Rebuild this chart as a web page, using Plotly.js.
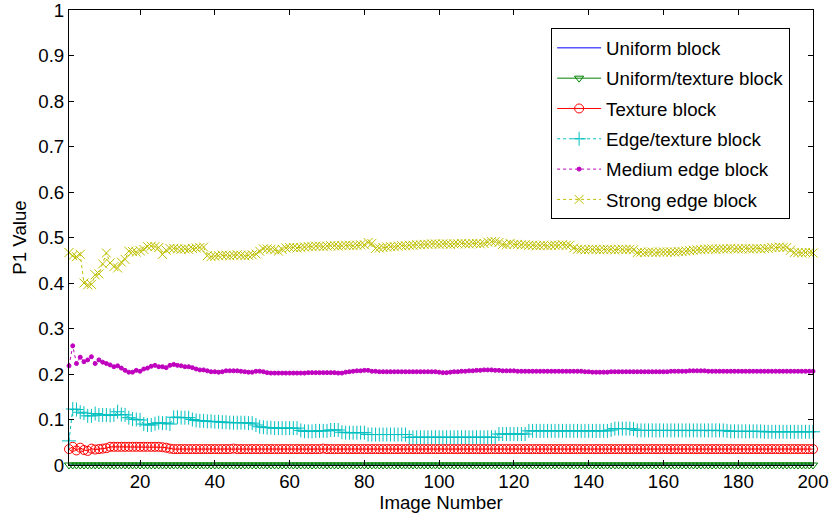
<!DOCTYPE html>
<html>
<head>
<meta charset="utf-8">
<script src="https://cdn.plot.ly/plotly-3.0.1.min.js"></script>
<style>html,body{margin:0;padding:0;background:#fff;}#chart{width:833px;height:519px;}</style>
</head>
<body>
<div id="chart"></div>
<script>
var imageNumber = [
1,2,3,4,5,6,7,8,9,10,11,12,13,14,15,16,17,18,19,20,
21,22,23,24,25,26,27,28,29,30,31,32,33,34,35,36,37,38,39,40,
41,42,43,44,45,46,47,48,49,50,51,52,53,54,55,56,57,58,59,60,
61,62,63,64,65,66,67,68,69,70,71,72,73,74,75,76,77,78,79,80,
81,82,83,84,85,86,87,88,89,90,91,92,93,94,95,96,97,98,99,100,
101,102,103,104,105,106,107,108,109,110,111,112,113,114,115,116,117,118,119,120,
121,122,123,124,125,126,127,128,129,130,131,132,133,134,135,136,137,138,139,140,
141,142,143,144,145,146,147,148,149,150,151,152,153,154,155,156,157,158,159,160,
161,162,163,164,165,166,167,168,169,170,171,172,173,174,175,176,177,178,179,180,
181,182,183,184,185,186,187,188,189,190,191,192,193,194,195,196,197,198,199,200];

var uniformBlock = [
0,0,0,0,0,0,0,0,0,0,0,0,0,0,0,0,0,0,0,0,
0,0,0,0,0,0,0,0,0,0,0,0,0,0,0,0,0,0,0,0,
0,0,0,0,0,0,0,0,0,0,0,0,0,0,0,0,0,0,0,0,
0,0,0,0,0,0,0,0,0,0,0,0,0,0,0,0,0,0,0,0,
0,0,0,0,0,0,0,0,0,0,0,0,0,0,0,0,0,0,0,0,
0,0,0,0,0,0,0,0,0,0,0,0,0,0,0,0,0,0,0,0,
0,0,0,0,0,0,0,0,0,0,0,0,0,0,0,0,0,0,0,0,
0,0,0,0,0,0,0,0,0,0,0,0,0,0,0,0,0,0,0,0,
0,0,0,0,0,0,0,0,0,0,0,0,0,0,0,0,0,0,0,0,
0,0,0,0,0,0,0,0,0,0,0,0,0,0,0,0,0,0,0,0];

var uniformTextureBlock = [
0,0,0,0,0,0,0,0,0,0,0,0,0,0,0,0,0,0,0,0,
0,0,0,0,0,0,0,0,0,0,0,0,0,0,0,0,0,0,0,0,
0,0,0,0,0,0,0,0,0,0,0,0,0,0,0,0,0,0,0,0,
0,0,0,0,0,0,0,0,0,0,0,0,0,0,0,0,0,0,0,0,
0,0,0,0,0,0,0,0,0,0,0,0,0,0,0,0,0,0,0,0,
0,0,0,0,0,0,0,0,0,0,0,0,0,0,0,0,0,0,0,0,
0,0,0,0,0,0,0,0,0,0,0,0,0,0,0,0,0,0,0,0,
0,0,0,0,0,0,0,0,0,0,0,0,0,0,0,0,0,0,0,0,
0,0,0,0,0,0,0,0,0,0,0,0,0,0,0,0,0,0,0,0,
0,0,0,0,0,0,0,0,0,0,0,0,0,0,0,0,0,0,0,0];

var textureBlock = [
0.035,0.040,0.032,0.038,0.033,0.031,0.036,0.034,0.035,0.036,0.037,0.040,0.040,0.040,0.040,0.040,0.040,0.040,0.040,0.040,
0.040,0.040,0.040,0.040,0.040,0.039,0.038,0.036,0.035,0.035,0.035,0.035,0.035,0.035,0.035,0.035,0.035,0.035,0.035,0.035,
0.035,0.035,0.035,0.035,0.036,0.035,0.035,0.035,0.035,0.035,0.035,0.035,0.035,0.035,0.035,0.035,0.035,0.035,0.035,0.035,
0.035,0.035,0.035,0.035,0.035,0.035,0.035,0.035,0.036,0.035,0.035,0.035,0.035,0.035,0.035,0.035,0.035,0.035,0.035,0.035,
0.035,0.035,0.035,0.035,0.035,0.035,0.035,0.035,0.035,0.035,0.035,0.035,0.035,0.035,0.035,0.035,0.035,0.035,0.035,0.035,
0.035,0.035,0.035,0.035,0.035,0.035,0.035,0.035,0.035,0.035,0.035,0.035,0.035,0.035,0.035,0.035,0.035,0.035,0.035,0.035,
0.035,0.035,0.035,0.035,0.035,0.035,0.035,0.035,0.035,0.035,0.035,0.035,0.035,0.035,0.035,0.035,0.035,0.035,0.035,0.035,
0.035,0.035,0.035,0.035,0.035,0.035,0.035,0.035,0.035,0.035,0.035,0.035,0.035,0.035,0.035,0.035,0.035,0.035,0.035,0.035,
0.035,0.035,0.035,0.035,0.035,0.035,0.035,0.035,0.035,0.035,0.035,0.035,0.035,0.035,0.035,0.035,0.035,0.035,0.035,0.035,
0.035,0.035,0.035,0.035,0.035,0.035,0.035,0.035,0.035,0.035,0.035,0.035,0.035,0.035,0.035,0.035,0.035,0.035,0.035,0.035];

var edgeTextureBlock = [
0.053,0.123,0.122,0.116,0.114,0.108,0.108,0.113,0.110,0.110,0.110,0.109,0.110,0.117,0.111,0.110,0.104,0.101,0.100,0.099,
0.090,0.088,0.088,0.091,0.093,0.092,0.092,0.090,0.105,0.105,0.104,0.104,0.104,0.100,0.098,0.097,0.097,0.096,0.096,0.095,
0.095,0.094,0.094,0.093,0.093,0.093,0.093,0.093,0.092,0.092,0.088,0.084,0.083,0.082,0.082,0.081,0.081,0.081,0.081,0.081,
0.081,0.081,0.076,0.074,0.074,0.074,0.075,0.075,0.075,0.075,0.077,0.077,0.077,0.072,0.071,0.071,0.071,0.071,0.071,0.071,
0.067,0.067,0.067,0.067,0.067,0.067,0.067,0.067,0.067,0.067,0.067,0.061,0.061,0.061,0.061,0.061,0.061,0.061,0.061,0.061,
0.061,0.061,0.061,0.061,0.061,0.061,0.061,0.061,0.061,0.061,0.061,0.061,0.061,0.061,0.061,0.068,0.068,0.068,0.068,0.068,
0.068,0.068,0.068,0.075,0.075,0.075,0.075,0.075,0.075,0.075,0.075,0.075,0.075,0.075,0.075,0.075,0.075,0.075,0.075,0.075,
0.075,0.075,0.075,0.075,0.075,0.077,0.080,0.080,0.080,0.080,0.080,0.079,0.076,0.076,0.076,0.076,0.076,0.076,0.076,0.076,
0.076,0.076,0.076,0.076,0.076,0.076,0.076,0.076,0.076,0.076,0.076,0.076,0.076,0.076,0.076,0.076,0.075,0.074,0.074,0.074,
0.074,0.074,0.074,0.074,0.074,0.074,0.073,0.073,0.073,0.073,0.073,0.073,0.073,0.073,0.073,0.073,0.073,0.073,0.073,0.073];

var mediumEdgeBlock = [
0.218,0.262,0.223,0.237,0.227,0.231,0.238,0.223,0.231,0.226,0.223,0.220,0.216,0.218,0.213,0.208,0.204,0.204,0.208,0.206,
0.211,0.213,0.217,0.219,0.216,0.216,0.214,0.219,0.221,0.219,0.218,0.216,0.216,0.214,0.211,0.209,0.209,0.207,0.205,0.205,
0.204,0.205,0.207,0.207,0.207,0.207,0.206,0.205,0.204,0.204,0.206,0.206,0.205,0.203,0.202,0.202,0.202,0.202,0.202,0.202,
0.202,0.202,0.202,0.202,0.203,0.203,0.203,0.203,0.203,0.203,0.203,0.203,0.202,0.202,0.204,0.205,0.206,0.207,0.207,0.208,
0.208,0.206,0.206,0.205,0.205,0.205,0.205,0.205,0.205,0.205,0.205,0.205,0.205,0.205,0.205,0.205,0.205,0.205,0.205,0.204,
0.203,0.203,0.204,0.205,0.205,0.206,0.206,0.207,0.207,0.208,0.208,0.209,0.209,0.209,0.208,0.208,0.207,0.207,0.207,0.207,
0.206,0.206,0.206,0.206,0.206,0.206,0.206,0.206,0.206,0.206,0.206,0.206,0.206,0.206,0.206,0.206,0.206,0.206,0.205,0.205,
0.204,0.204,0.204,0.204,0.204,0.205,0.205,0.205,0.205,0.205,0.205,0.205,0.205,0.205,0.205,0.205,0.205,0.205,0.205,0.205,
0.205,0.206,0.206,0.206,0.206,0.206,0.207,0.207,0.207,0.207,0.207,0.206,0.206,0.206,0.206,0.206,0.206,0.206,0.206,0.206,
0.206,0.206,0.206,0.206,0.206,0.206,0.206,0.206,0.206,0.206,0.206,0.206,0.206,0.206,0.206,0.206,0.206,0.206,0.206,0.206];

var strongEdgeBlock = [
0.467,0.460,0.458,0.463,0.400,0.396,0.397,0.418,0.420,0.442,0.466,0.444,0.436,0.433,0.446,0.452,0.470,0.469,0.468,0.471,
0.474,0.480,0.481,0.480,0.478,0.463,0.472,0.476,0.476,0.475,0.474,0.475,0.474,0.476,0.477,0.478,0.479,0.460,0.458,0.459,
0.460,0.461,0.461,0.460,0.461,0.462,0.461,0.460,0.461,0.462,0.464,0.470,0.475,0.475,0.474,0.473,0.470,0.474,0.477,0.478,
0.478,0.477,0.478,0.479,0.480,0.480,0.481,0.481,0.480,0.481,0.482,0.482,0.481,0.482,0.483,0.483,0.482,0.483,0.484,0.484,
0.489,0.487,0.476,0.477,0.478,0.479,0.480,0.480,0.481,0.482,0.482,0.483,0.483,0.484,0.484,0.485,0.485,0.486,0.486,0.485,
0.486,0.486,0.485,0.486,0.486,0.487,0.486,0.486,0.487,0.487,0.486,0.487,0.490,0.491,0.491,0.489,0.485,0.484,0.487,0.485,
0.485,0.484,0.484,0.483,0.483,0.482,0.482,0.483,0.482,0.483,0.483,0.483,0.484,0.483,0.483,0.477,0.474,0.474,0.473,0.474,
0.474,0.474,0.473,0.474,0.474,0.474,0.473,0.474,0.474,0.474,0.474,0.473,0.467,0.468,0.467,0.468,0.468,0.467,0.468,0.468,
0.468,0.468,0.468,0.469,0.469,0.470,0.471,0.472,0.473,0.473,0.474,0.475,0.475,0.474,0.475,0.475,0.475,0.476,0.475,0.475,
0.475,0.476,0.475,0.475,0.476,0.475,0.476,0.476,0.478,0.478,0.479,0.478,0.478,0.472,0.467,0.467,0.466,0.467,0.467,0.466];

var seriesNames = ['Uniform block','Uniform/texture block','Texture block','Edge/texture block','Medium edge block','Strong edge block'];
var xTicks = [20,40,60,80,100,120,140,160,180,200];

var FONT = 'Liberation Sans, Arial, Helvetica, sans-serif';
var FS = 18.7;

function tr(name, y, color, dash, symbol, msize, mode, g) {
  return {
    x: imageNumber, y: y, name: name, type: 'scatter', mode: mode,
    cliponaxis: false, legendgroup: g,
    line: {color: color, width: 1, dash: dash},
    marker: {symbol: symbol, size: msize, color: color, line: {color: color, width: 1}}
  };
}

var data = [
  tr(seriesNames[0], uniformBlock, '#0000ff', 'solid', 'circle', 1, 'lines', 'g1'),
  tr(seriesNames[1], uniformTextureBlock, '#008000', 'solid', 'triangle-down-open', 8, 'lines+markers', 'g2'),
  tr(seriesNames[2], textureBlock, '#ff0000', 'solid', 'circle-open', 9, 'lines+markers', 'g3'),
  tr(seriesNames[3], edgeTextureBlock, '#00bfbf', 'dot', 'cross-thin-open', 10, 'lines+markers', 'g4'),
  tr(seriesNames[4], mediumEdgeBlock, '#bf00bf', 'dot', 'circle', 4, 'lines+markers', 'g5'),
  tr(seriesNames[5], strongEdgeBlock, '#bfbf00', 'dot', 'x-thin-open', 9, 'lines+markers', 'g6')
];

var axisCommon = {
  showline: true, linecolor: '#000', linewidth: 1, mirror: 'ticks',
  ticks: 'inside', ticklen: 5, tickcolor: '#000', tickwidth: 1,
  showgrid: false, zeroline: false, automargin: false,
  ticklabeloverflow: 'allow',
  tickfont: {family: FONT, size: FS, color: '#000'}
};

var layout = {
  width: 833, height: 519,
  margin: {l: 69, r: 20, t: 10, b: 54},
  paper_bgcolor: '#fff', plot_bgcolor: '#fff',
  font: {family: FONT, size: FS, color: '#000'},
  showlegend: true,
  legend: {
    x: 0.648, y: 0.96, xanchor: 'left', yanchor: 'top',
    bordercolor: '#000', borderwidth: 1, bgcolor: '#fff',
    font: {family: FONT, size: FS, color: '#000'},
    itemwidth: 44,
    tracegroupgap: 3
  },
  xaxis: Object.assign({}, axisCommon, {
    range: [1, 200], tickmode: 'array', tickvals: xTicks,
    title: {text: 'Image Number', font: {family: FONT, size: FS, color: '#000'}, standoff: 2}
  }),
  yaxis: Object.assign({}, axisCommon, {
    range: [0, 1], dtick: 0.1, tick0: 0,
    title: {text: 'P1 Value', font: {family: FONT, size: FS, color: '#000'}, standoff: 6}
  })
};

Plotly.newPlot('chart', data, layout, {displayModeBar: false, staticPlot: true});
</script>
</body>
</html>
